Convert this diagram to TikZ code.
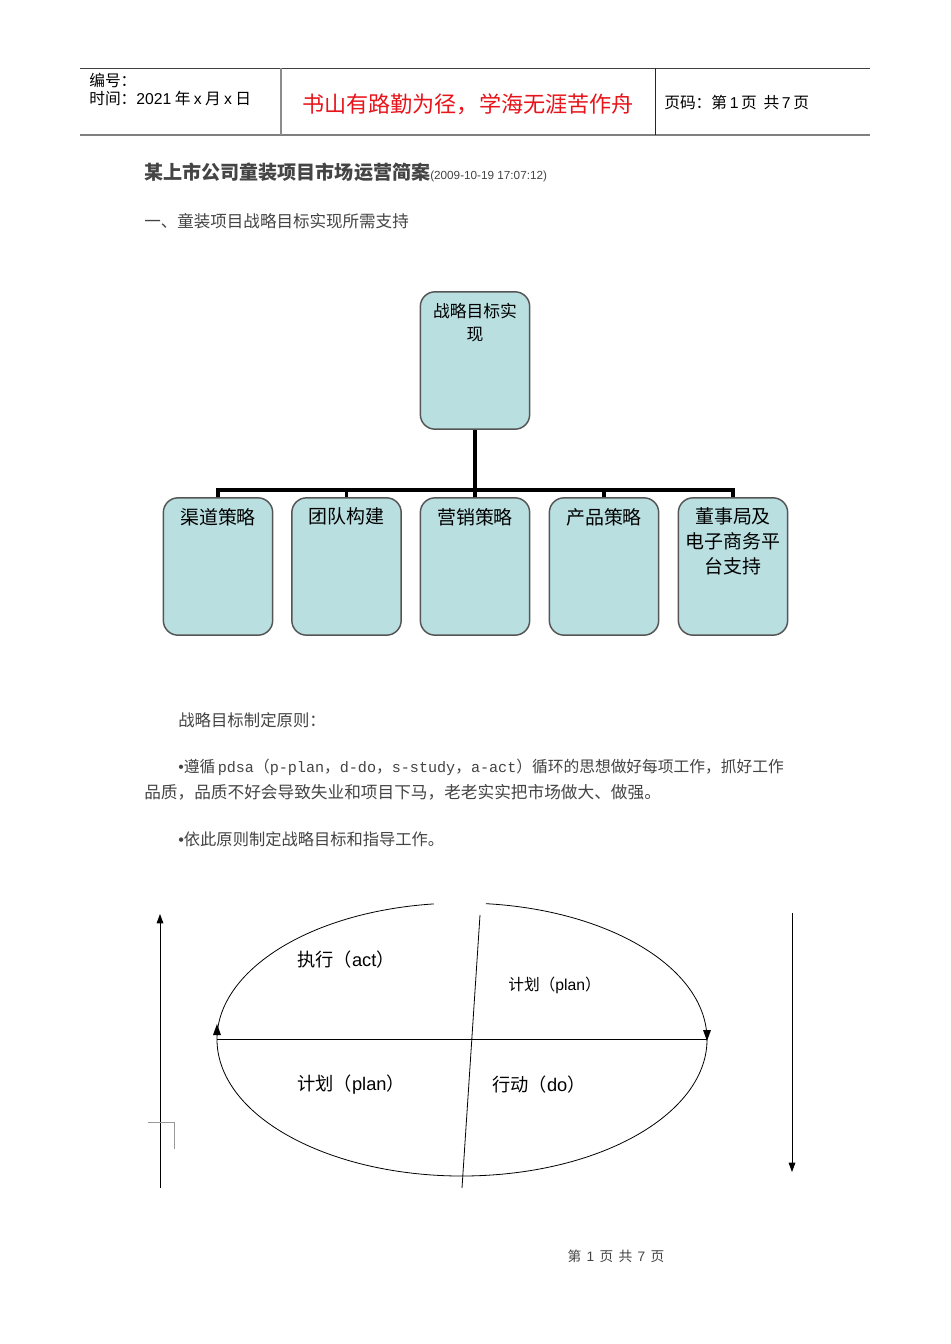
\documentclass[tikz,border=0pt]{standalone}
\usepackage{fontspec}
\setmainfont{Noto Sans CJK SC}
\newfontfamily\cjk{Noto Sans CJK SC}
\newfontfamily\lat{Liberation Sans}
\newfontfamily\mono[Scale=0.96]{Liberation Mono}
\usetikzlibrary{arrows.meta}
\definecolor{boxfill}{HTML}{B9DFE1}
\definecolor{boxline}{HTML}{555555}
\definecolor{redtxt}{HTML}{E8141B}
\definecolor{greytxt}{HTML}{444444}
\tikzset{
  box/.style={draw=boxline, line width=1.1pt, fill=boxfill, rounded corners=11pt,
    minimum width=82pt, minimum height=103pt, inner sep=0pt},
  boxtxt/.style={anchor=north, align=center, inner sep=0pt, font=\fontsize{14.2pt}{18.5pt}\selectfont},
  conn/.style={line width=2.3pt, black},
  txt/.style={anchor=west, inner sep=0pt},
  rule/.style={line width=0.6pt},
  cyc/.style={line width=0.6pt, black},
}
\begin{document}
\begin{tikzpicture}[x=0.75pt,y=0.75pt]
\useasboundingbox (0,0) rectangle (950,-1344);
\fill[white] (0,0) rectangle (950,-1344);
% header
\draw[rule, black!75] (80,-68) -- (870,-68);
\draw[line width=1.5pt, black!50] (80,-135) -- (870,-135);
\draw[line width=1pt, black!45] (281,-68) -- (281,-135);
\draw[rule, black!85] (655,-68) -- (655,-135);
\node[txt, font=\fontsize{11.8pt}{13pt}\selectfont] (hno) at (89,-80) {编号：};
\node[txt, font=\fontsize{11.8pt}{13pt}\selectfont] (htime) at (89,-99) {时间：{\lat 2021\hspace{2.5pt}}年{\lat\hspace{2.5pt}x\hspace{2.5pt}}月{\lat\hspace{2.5pt}x\hspace{2.5pt}}日};
\node[inner sep=0pt, text=redtxt, font=\fontsize{16.6pt}{19pt}\selectfont] (hmotto) at (468,-104) {书山有路勤为径，学海无涯苦作舟};
\node[txt, font=\fontsize{11.8pt}{13pt}\selectfont] (hpage) at (664,-103) {页码：第{\lat\,1\,}页\hspace{5pt}共{\lat\,7\,}页};
% title
\node[txt, font=\fontsize{14.3pt}{17pt}\selectfont\bfseries, text=greytxt] (title) at (144,-172) {某上市公司童装项目市场运营简案{\lat\mdseries\fontsize{8.8pt}{10pt}\selectfont(2009-10-19 17:07:12)}};
\node[txt, font=\fontsize{12.4pt}{15pt}\selectfont, text=greytxt] (sec1) at (144,-221) {一、童装项目战略目标实现所需支持};
% org chart
\node[box] (top) at (475,-360.5) {};
\node[boxtxt, font=\fontsize{12.6pt}{17.5pt}\selectfont] at ([yshift=-9pt]top.north) {战略目标实\\现};
\node[box] (b1) at (218,-566.5) {};
\node[box] (b2) at (346.5,-566.5) {};
\node[box] (b3) at (475,-566.5) {};
\node[box] (b4) at (604,-566.5) {};
\node[box] (b5) at (733,-566.5) {};
\node[boxtxt] at ([yshift=-8pt]b1.north) {渠道策略};
\node[boxtxt] at ([yshift=-8pt]b2.north) {团队构建};
\node[boxtxt] at ([yshift=-8pt]b3.north) {营销策略};
\node[boxtxt] at ([yshift=-8pt]b4.north) {产品策略};
\node[boxtxt] at ([yshift=-8pt]b5.north) {董事局及\\电子商务平\\台支持};
\coordinate (bus) at (475,-490);
\draw[conn] (top.south) -- (bus);
\draw[conn] (b1.north) |- (bus) -| (b5.north);
\draw[conn] (b2.north) -- (b2.north |- bus);
\draw[conn] (b3.north) -- (bus);
\draw[conn] (b4.north) -- (b4.north |- bus);
% principles
\node[txt, font=\fontsize{12.3pt}{15pt}\selectfont, text=greytxt] (p0) at (178,-720) {战略目标制定原则：};
\node[txt, font=\fontsize{11.8pt}{15pt}\selectfont, text=greytxt] (p1) at (178,-767) {{\lat •}遵循{\mono\,pdsa}（{\mono p-plan}，{\mono d-do}，{\mono s-study}，{\mono a-act}）循环的思想做好每项工作，抓好工作};
\node[txt, font=\fontsize{12.5pt}{15pt}\selectfont, text=greytxt] (p2) at (144,-792) {品质，品质不好会导致失业和项目下马，老老实实把市场做大、做强。};
\node[txt, font=\fontsize{12.2pt}{15pt}\selectfont, text=greytxt] (p3) at (178,-839) {{\lat •}依此原则制定战略目标和指导工作。};
% PDSA cycle
\draw[cyc] (462,-1039.5) ++(96.6:245 and 136.5) arc[start angle=96.6, end angle=444.4, x radius=245, y radius=136.5];
\draw[cyc] (217,-1039) -- (707,-1039);
\draw[cyc] (480,-915) -- (462,-1188);
\fill (217,-1024) -- (213,-1035) -- (221,-1035) -- cycle;
\fill (707,-1041) -- (703,-1030) -- (711,-1030) -- cycle;
\draw[cyc, -{Triangle[length=7pt,width=5pt]}] (160,-1188) -- (160,-914);
\draw[cyc, -{Triangle[length=7pt,width=5pt]}] (792,-913) -- (792,-1172);
\draw[line width=0.5pt, black!40] (148,-1122) -- (174,-1122) -- (174,-1149);
\node[txt, font=\fontsize{13.7pt}{16pt}\selectfont] (act) at (297,-960) {执行（{\lat act}）};
\node[txt, font=\fontsize{11.8pt}{14pt}\selectfont] (plan1) at (508,-985) {计划（{\lat plan}）};
\node[txt, font=\fontsize{13.7pt}{16pt}\selectfont] (plan2) at (297,-1085) {计划（{\lat plan}）};
\node[txt, font=\fontsize{13.7pt}{16pt}\selectfont] (do) at (492,-1085) {行动（{\lat do}）};
% footer
\node[inner sep=0pt, font=\fontsize{10.3pt}{12pt}\selectfont, text=greytxt] (foot) at (616,-1256) {第\hspace{4pt}{\lat 1}\hspace{4pt}页\hspace{4pt}共\hspace{4pt}{\lat 7}\hspace{4pt}页};
\end{tikzpicture}
\end{document}
